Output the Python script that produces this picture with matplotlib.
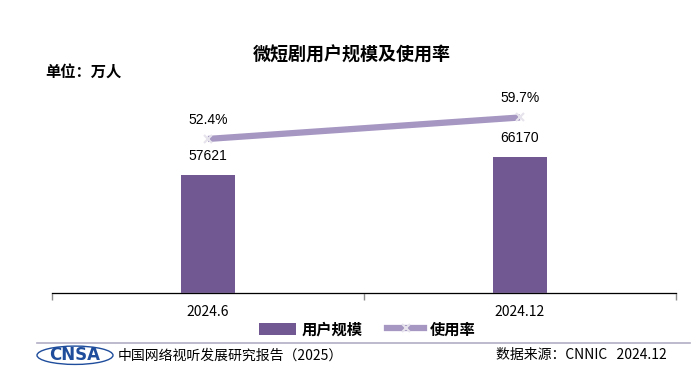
import matplotlib.pyplot as plt
from matplotlib.patches import Ellipse
from matplotlib.lines import Line2D
from matplotlib.patches import Patch

plt.rcParams['font.family'] = ['Noto Sans CJK SC', 'DejaVu Sans']

# data
categories = ['2024.6', '2024.12']
users = [57621, 66170]          # 万人
usage_rate = [52.4, 59.7]       # %

BAR_COLOR = '#715892'
LINE_COLOR = '#a596c2'

fig = plt.figure(figsize=(7, 3.82), dpi=100)
ax = fig.add_axes([52 / 700, 0.233, 624 / 700, 0.558])
x = list(range(len(categories)))

ax.bar(x, users, width=0.17, color=BAR_COLOR, zorder=2)
ax.set_xlim(-0.5, 1.5)
ax.set_ylim(0, 104000)
for xi, v in zip(x, users):
    ax.text(xi, v + 6000, str(v), ha='center', va='bottom', fontsize=10,
            family=['Liberation Sans', 'DejaVu Sans'])

ax2 = ax.twinx()
ax2.set_ylim(0, 72.5)
ax2.plot(x, usage_rate, color=LINE_COLOR, linewidth=4.5, solid_capstyle='butt',
         marker='x', markersize=6, markeredgecolor='#e6e3ec', markeredgewidth=1.5, zorder=3)
for xi, v in zip(x, usage_rate):
    ax2.text(xi, v + 4.2, f'{v}%', ha='center', va='bottom', fontsize=10,
             family=['Liberation Sans', 'DejaVu Sans'])

for a in (ax, ax2):
    for s in ('top', 'left', 'right'):
        a.spines[s].set_visible(False)
    a.set_yticks([])
ax.spines['bottom'].set_color('#8c8c8c')
ax.spines['bottom'].set_linewidth(1.0)
ax.set_xticks(x)
ax.set_xticklabels(categories, fontsize=10)
ax.tick_params(axis='x', which='major', length=0, pad=9)
ax.set_xticks([-0.5, 0.5, 1.5], minor=True)
ax.tick_params(axis='x', which='minor', length=5, color='#8c8c8c', width=1.0)

# title and unit
fig.text(0.502, 0.857, '微短剧用户规模及使用率', ha='center', va='center',
         fontsize=13, fontweight='bold')
fig.text(45 / 700, 0.812, '单位：万人', ha='left', va='center',
         fontsize=11, fontweight='bold')

# legend
handles = [Patch(facecolor=BAR_COLOR, edgecolor='none'),
           Line2D([0], [0], color=LINE_COLOR, linewidth=4.5, marker='x',
                  markersize=6, markeredgecolor='#e6e3ec', markeredgewidth=1.5)]
fig.legend(handles, ['用户规模', '使用率'], loc='center', bbox_to_anchor=(0.525, 0.138),
           ncol=2, frameon=False, prop={'size': 11, 'weight': 'bold'},
           handlelength=2.4, handleheight=0.9, columnspacing=1.6, handletextpad=0.4)

# footer
fig.add_artist(Line2D([37 / 700, 690 / 700], [0.102, 0.102], color='#b0aec4', linewidth=1.2))
fig.add_artist(Ellipse((75 / 700, 0.07), 76 / 700, 0.048, facecolor='none',
                       edgecolor='#1f4d9c', linewidth=1.0))
fig.text(75 / 700, 0.07, 'CNSA', ha='center', va='center', fontsize=12,
         fontweight='bold', color='#1f4d9c', family=['DejaVu Sans'])
fig.text(118 / 700, 0.07, '中国网络视听发展研究报告（2025）', ha='left', va='center', fontsize=10)
fig.text(667 / 700, 0.07, '数据来源：CNNIC   2024.12', ha='right', va='center', fontsize=10)

fig.savefig('out.png', dpi=100)
